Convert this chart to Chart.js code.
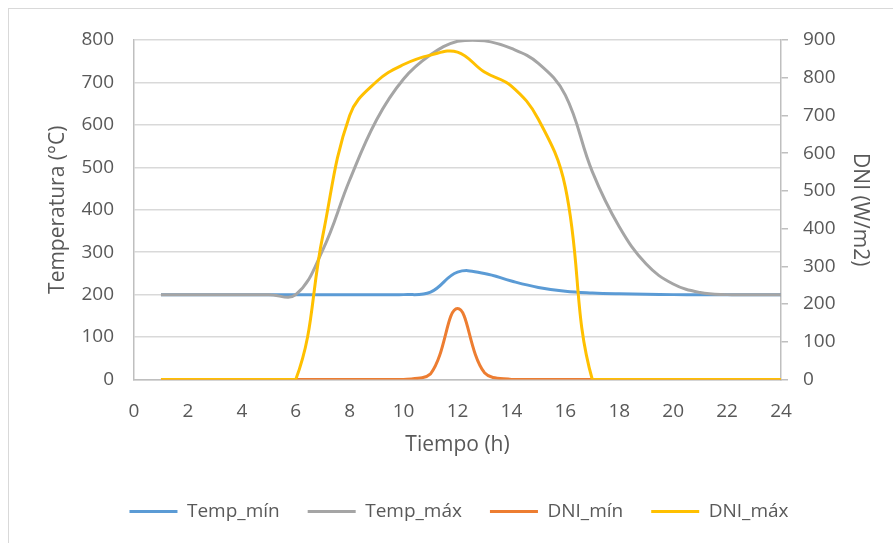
<!DOCTYPE html>
<html>
<head>
<meta charset="utf-8">
<script src="https://cdn.jsdelivr.net/npm/chart.js@4/dist/chart.umd.min.js"></script>
<style>
  html, body { margin: 0; padding: 0; background: #ffffff; overflow: hidden; }
  #frame { position: absolute; left: 8px; top: 8px; width: 1000px; height: 1000px; border: 1px solid #D9D9D9; box-sizing: border-box; }
  #wrap { position: absolute; left: 0; top: 0; width: 893px; height: 543px; }
</style>
</head>
<body>
<div id="frame"></div>
<div id="wrap"><canvas id="c" width="893" height="543"></canvas></div>
<script>
// ---- Data ----
const hours     = [1,2,3,4,5,6,7,8,9,10,11,12,13,14,15,16,17,18,19,20,21,22,23,24];
const tempMin   = [200,200,200,200,200,200,200,200,200,200,206,253,250,232,217,208,204,202,201,200,200,200,200,200];
const tempMax   = [200,200,200,200,200,200,305,470,612,708,765,797,798,780,745,670,490,360,272,225,205,200,200,200];
const dniMin    = [0,0,0,0,0,0,0,0,0,0,15,188,18,0,0,0,0,0,0,0,0,0,0,0];
const dniMax    = [0,0,0,0,0,0,380,700,790,835,860,868,815,778,690,510,0,0,0,0,0,0,0,0];
const seriesNames = ['Temp_mín', 'Temp_máx', 'DNI_mín', 'DNI_máx'];
const xTitle = 'Tiempo (h)';
const yLeftTitle = 'Temperatura (°C)';
const yRightTitle = 'DNI (W/m2)';

const pts = (arr) => arr.map((v, i) => ({x: hours[i], y: v}));
const FONT = "'Open Sans', sans-serif";
const TXT = '#595959';

const mk = (label, data, color, axis, order) => ({
  label, data: pts(data), borderColor: color, backgroundColor: color,
  borderWidth: 3, pointRadius: 0, tension: 0.4, yAxisID: axis, order
});

new Chart(document.getElementById('c'), {
  type: 'line',
  data: {
    datasets: [
      mk(seriesNames[0], tempMin, '#5B9BD5', 'yL', 3),
      mk(seriesNames[1], tempMax, '#A5A5A5', 'yL', 2),
      mk(seriesNames[2], dniMin,  '#ED7D31', 'yR', 1),
      mk(seriesNames[3], dniMax,  '#FFC000', 'yR', 0)
    ]
  },
  options: {
    responsive: false,
    animation: false,
    events: [],
    layout: { padding: { left: 45, right: 20, top: 40, bottom: 12 } },
    plugins: {
      tooltip: { enabled: false },
      legend: {
        position: 'bottom',
        maxHeight: 69,
        labels: {
          color: TXT,
          font: { family: FONT, size: 19 },
          boxWidth: 48,
          boxHeight: 3,
          padding: 28,
          generateLabels(chart) {
            const items = Chart.defaults.plugins.legend.labels.generateLabels(chart);
            items.forEach(it => {
              const ds = chart.data.datasets[it.datasetIndex];
              it.fillStyle = ds.borderColor;
              it.strokeStyle = ds.borderColor;
              it.lineWidth = 0;
            });
            return items.sort((a, b) => a.datasetIndex - b.datasetIndex);
          }
        }
      }
    },
    scales: {
      x: {
        type: 'linear', min: 0, max: 24,
        ticks: { stepSize: 2, color: TXT, font: { family: FONT, size: 19 }, padding: 21, maxRotation: 0 },
        grid: { display: false, drawTicks: false },
        border: { display: true, color: '#BFBFBF', width: 1.5 },
        title: { display: true, text: xTitle, color: TXT, font: { family: FONT, size: 21 }, padding: { top: 0, bottom: 16 } },
        afterFit(s) { s.height = 94.5; }
      },
      yL: {
        position: 'left', min: 0, max: 800,
        ticks: { stepSize: 100, color: TXT, font: { family: FONT, size: 19 }, padding: 20 },
        grid: { color: '#D9D9D9', lineWidth: 1.5, drawTicks: false },
        border: { display: true, color: '#BFBFBF', width: 1.5 },
        title: { display: true, text: yLeftTitle, color: TXT, font: { family: FONT, size: 21 }, padding: { top: 0, bottom: 0 } },
        afterFit(s) { s.width = 89; }
      },
      yR: {
        position: 'right', min: 0, max: 900,
        ticks: { stepSize: 100, color: TXT, font: { family: FONT, size: 19 }, padding: 15 },
        grid: { drawOnChartArea: false, drawTicks: true, tickLength: 7, color: '#BFBFBF', lineWidth: 1.5 },
        border: { display: true, color: '#BFBFBF', width: 1.5 },
        title: { display: true, text: yRightTitle, color: TXT, font: { family: FONT, size: 21 }, padding: { top: 0, bottom: 0 } },
        afterFit(s) { s.width = 92; }
      }
    }
  }
});
</script>
</body>
</html>
